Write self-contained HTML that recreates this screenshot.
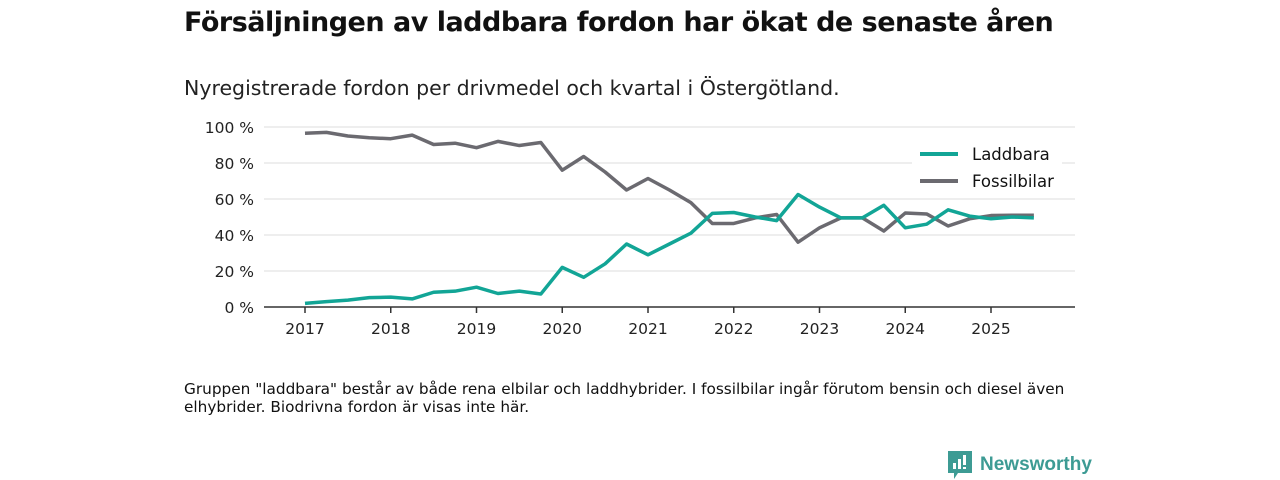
<!DOCTYPE html>
<html><head><meta charset="utf-8"><style>
body{margin:0;width:1280px;height:480px;background:#fff;font-family:"DejaVu Sans","Liberation Sans",sans-serif;overflow:hidden;position:relative;color:#111}
.t{position:absolute;left:184px;top:7px;font-size:27px;font-weight:bold;letter-spacing:-0.5px;white-space:nowrap}
.s{position:absolute;left:184px;top:76px;font-size:20.5px;color:#222;white-space:nowrap;letter-spacing:0px}
.n{position:absolute;left:184px;top:380px;font-size:15.3px;line-height:18px;color:#111;width:910px}
.logo{position:absolute;left:948px;top:451px;font-size:19px;font-weight:bold;color:#3d9b94;display:flex;align-items:center;gap:8px;font-family:"Liberation Sans",sans-serif}
</style></head><body>
<div class="t">Försäljningen av laddbara fordon har ökat de senaste åren</div>
<div class="s">Nyregistrerade fordon per drivmedel och kvartal i Östergötland.</div>
<svg id="c" width="1280" height="480" style="position:absolute;left:0;top:0"></svg>
<div class="n">Gruppen "laddbara" består av både rena elbilar och laddhybrider. I fossilbilar ingår förutom bensin och diesel även elhybrider. Biodrivna fordon är visas inte här.</div>
<div class="logo"><svg width="24" height="28" viewBox="0 0 24 28"><path d="M0 0H24V22H10L6 28V22H0Z" fill="#3d9b94"/><rect x="5" y="12" width="3" height="6" fill="#fff"/><rect x="10" y="8" width="3" height="10" fill="#fff"/><rect x="15" y="4" width="3" height="10" fill="#fff"/><rect x="15" y="16" width="3" height="2" fill="#fff"/></svg><span>Newsworthy</span></div>
<script>
const startYear = 2017;
const laddbara = [2,3,3.8,5.2,5.5,4.5,8.2,8.8,11,7.5,8.8,7.2,22,16.5,24,35,29,35,41,52,52.5,50,48,62.5,55.5,49.5,49.5,56.5,44,46,54,50.5,49,50,49.5];
const fossil = [96.5,97,95,94,93.5,95.5,90.3,91,88.5,92,89.7,91.4,76,83.6,75,65,71.4,65,58,46.4,46.4,49.5,51.4,36,44,49.5,49.5,42.2,52.2,51.7,45,49,50.8,51,51];
const yTicks = [0,20,40,60,80,100];
const xTicks = [2017,2018,2019,2020,2021,2022,2023,2024,2025];
const NS="http://www.w3.org/2000/svg", svg=document.getElementById('c');
const x=t=>305+(t-startYear)*85.75, y=v=>307-v*1.8;
function el(tag,a,p){const e=document.createElementNS(NS,tag);for(const k in a)e.setAttribute(k,a[k]);(p||svg).appendChild(e);return e;}
yTicks.forEach(v=>{
  if(v>0){const g=el('line',{x1:264,x2:1075,y1:y(v),y2:y(v),stroke:'#ddd','stroke-width':1});
  
  }
  const t=el('text',{x:254,y:y(v)+6,'text-anchor':'end','font-size':15.5,fill:'#222'});t.textContent=v+' %';
  
  
});
const ax=el('line',{x1:264,x2:1075,y1:307,y2:307,stroke:'#333','stroke-width':1.5});


xTicks.forEach(yr=>{
  el('line',{x1:x(yr),x2:x(yr),y1:307,y2:313,stroke:'#333','stroke-width':1.5});
  const t=el('text',{x:x(yr),y:334,'text-anchor':'middle','font-size':15.5,fill:'#222'});t.textContent=yr;
  
  
});
function line(data,color,name){
  const p=el('polyline',{points:data.map((v,i)=>x(startYear+i/4)+','+y(v)).join(' '),fill:'none',stroke:color,'stroke-width':3.5,'stroke-linejoin':'round'});
  
  
}
line(fossil,'#6b6a70','fossilbilar-line');
line(laddbara,'#12a596','laddbara-line');
el('rect',{x:912,y:143,width:150,height:55,fill:'#fff'});
[['Laddbara','#12a596',154],['Fossilbilar','#6b6a70',181]].forEach(([n,c,yy])=>{
  const g=el('g',{});
  
  
  el('line',{x1:920,x2:958,y1:yy,y2:yy,stroke:c,'stroke-width':4},g);
  const t=el('text',{x:972,y:yy+6,'font-size':16.5,fill:'#111'},g);t.textContent=n;
});
</script>
</body></html>
